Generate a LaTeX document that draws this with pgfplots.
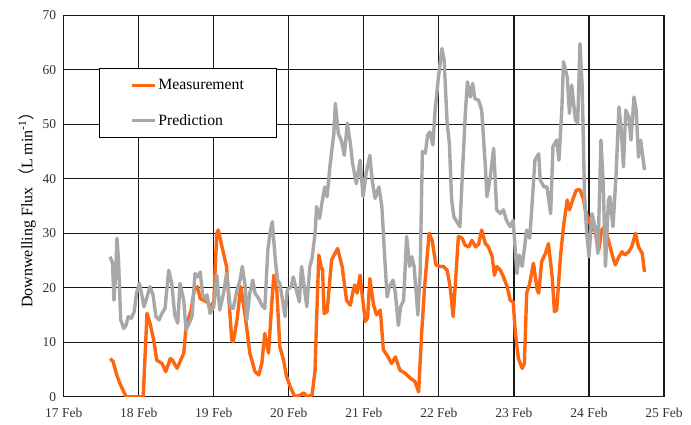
\documentclass[border=0pt]{standalone}
\usepackage{fontspec}
\setmainfont{Liberation Serif}
\newfontfamily\cjk{Noto Sans CJK SC}
\usepackage{pgfplots}
\pgfplotsset{compat=1.18}
\definecolor{meas}{RGB}{255,102,16}
\definecolor{pred}{RGB}{168,168,168}
\definecolor{gridc}{RGB}{25,25,25}
\begin{document}
\begin{tikzpicture}
\useasboundingbox (-63.7pt,-27.3pt) rectangle (627.3pt,396.7pt);
\begin{axis}[
  scale only axis,
  width=600.3pt, height=381.4pt,
  xmin=17, xmax=25, ymin=0, ymax=70,
  xtick={17,18,19,20,21,22,23,24,25},
  xticklabels={17 Feb,18 Feb,19 Feb,20 Feb,21 Feb,22 Feb,23 Feb,24 Feb,25 Feb},
  ytick={0,10,20,30,40,50,60,70},
  major tick length=0pt,
  grid=major,
  major grid style={gridc, line width=1.2pt},
  axis line style={gridc, line width=1.2pt},
  tick label style={font=\fontsize{13.5}{15}\selectfont, text=black!80},
  /pgf/number format/assume math mode=true,
  xticklabel style={yshift=-8pt},
  yticklabel style={xshift=-4pt},
  ylabel={Downwelling Flux\hspace{0.15em}{\cjk （}L min\textsuperscript{-1}{\cjk ）}},
  every axis y label/.append style={font=\fontsize{16}{18}\selectfont, yshift=0pt},
  legend style={at={(0.058,0.862)}, anchor=north west, draw=black, line width=1pt,
    font=\fontsize{15.7}{17}\selectfont, inner xsep=31pt, inner ysep=9pt, row sep=19pt,
    cells={anchor=west}},
  legend image code/.code={\draw[#1] (0pt,0pt) -- (23pt,0pt);},
  every axis plot/.append style={line width=3.4pt, line join=round},
]
\addplot[meas, no markers] coordinates {
(17.62,7.0)(17.66,6.4)(17.70,4.3)(17.75,2.4)(17.82,0.3)(17.84,0)(18.06,0)(18.11,15.3)(18.15,13.5)(18.20,10.4)
(18.24,6.7)(18.31,6.1)(18.36,4.6)(18.42,7.0)(18.45,6.7)(18.51,5.2)(18.55,6.4)(18.60,8.0)(18.63,12.8)(18.70,16.0)
(18.74,19.6)(18.78,20.2)(18.82,18.0)(18.91,17.4)(18.95,16.5)(19.00,17.4)(19.04,30.0)(19.06,30.6)(19.10,28.1)(19.17,23.9)
(19.24,10.4)(19.26,10.1)(19.31,14.1)(19.36,20.2)(19.42,14.7)(19.48,8.0)(19.55,4.6)(19.60,4.0)(19.64,6.1)(19.68,11.6)
(19.73,8.0)(19.77,16.5)(19.80,22.3)(19.84,19.6)(19.88,9.2)(19.93,6.7)(19.97,3.7)(20.02,1.8)(20.08,0)(20.15,0.3)
(20.20,0.7)(20.24,0)(20.31,0.3)(20.35,4.9)(20.37,14.1)(20.40,26.0)(20.43,23.9)(20.45,23.2)(20.47,15.3)(20.51,15.6)
(20.57,25.1)(20.65,27.2)(20.71,23.9)(20.77,17.7)(20.82,16.8)(20.86,19.6)(20.88,20.5)(20.91,19.0)(20.95,22.3)(20.97,19.6)
(21.02,13.8)(21.05,14.5)(21.08,21.7)(21.13,16.8)(21.17,15.0)(21.22,15.9)(21.26,8.6)(21.31,7.6)(21.37,6.1)(21.42,7.3)
(21.48,4.9)(21.55,4.3)(21.62,3.4)(21.68,2.8)(21.73,0.9)(21.77,11.6)(21.81,20.2)(21.87,30.0)(21.91,28.7)(21.96,24.2)
(22.02,23.9)(22.06,23.9)(22.11,23.2)(22.15,20.2)(22.19,14.7)(22.22,20.8)(22.26,29.4)(22.31,29.1)(22.35,27.8)(22.40,27.5)
(22.44,28.7)(22.49,27.5)(22.53,28.0)(22.57,30.6)(22.62,28.1)(22.66,27.5)(22.71,25.7)(22.74,22.3)(22.77,23.9)(22.82,23.2)
(22.86,22.0)(22.91,20.2)(22.95,17.7)(22.99,17.4)(23.02,11.6)(23.06,7.0)(23.11,5.2)(23.14,6.1)(23.17,19.0)(23.21,20.8)
(23.26,24.5)(23.31,19.6)(23.33,19.0)(23.37,24.8)(23.42,26.3)(23.46,28.1)(23.51,22.0)(23.54,15.6)(23.57,15.9)(23.62,25.7)
(23.66,31.2)(23.71,36.1)(23.74,34.3)(23.79,36.4)(23.83,37.9)(23.88,38.0)(23.93,36.1)(23.95,34.3)(24.00,32.4)(24.04,30.6)
(24.08,30.6)(24.13,26.9)(24.17,30.6)(24.21,31.2)(24.26,28.7)(24.31,26.0)(24.35,24.2)(24.40,25.7)(24.44,26.6)(24.48,26.0)
(24.53,26.6)(24.57,27.5)(24.62,30.0)(24.66,27.5)(24.71,26.3)(24.74,22.9)
};
\addlegendentry{Measurement}
\addplot[pred, no markers] coordinates {
(17.62,25.7)(17.65,24.5)(17.67,17.7)(17.69,22.0)(17.71,29.1)(17.73,25.1)(17.76,14.1)(17.80,12.5)(17.83,13.1)(17.86,14.7)
(17.90,14.4)(17.94,15.6)(17.97,19.0)(18.01,20.8)(18.04,18.7)(18.07,16.5)(18.11,18.3)(18.15,20.2)(18.19,18.7)(18.23,14.7)
(18.27,14.1)(18.31,15.3)(18.35,16.2)(18.40,23.2)(18.44,20.8)(18.48,15.0)(18.52,13.5)(18.55,20.8)(18.60,17.7)(18.63,12.2)
(18.66,13.1)(18.71,14.7)(18.75,22.6)(18.78,22.0)(18.82,22.9)(18.85,18.7)(18.88,18.0)(18.91,18.7)(18.95,15.3)(19.00,16.5)
(19.04,22.3)(19.08,15.9)(19.13,19.0)(19.17,22.6)(19.22,16.5)(19.26,16.2)(19.31,19.6)(19.35,21.4)(19.38,23.9)(19.42,20.2)
(19.44,14.1)(19.48,19.0)(19.52,21.4)(19.55,19.0)(19.60,18.0)(19.64,16.8)(19.68,16.2)(19.72,26.9)(19.76,30.9)(19.78,32.1)
(19.82,25.1)(19.85,21.4)(19.88,20.8)(19.93,16.5)(19.95,14.7)(19.98,19.6)(20.03,20.2)(20.06,22.0)(20.10,19.6)(20.14,17.4)
(20.17,23.9)(20.20,20.8)(20.24,16.5)(20.28,23.9)(20.31,25.4)(20.35,30.0)(20.37,34.9)(20.41,32.7)(20.44,35.5)(20.48,38.5)
(20.51,36.7)(20.55,42.5)(20.60,48.3)(20.62,53.8)(20.66,48.3)(20.70,47.0)(20.74,44.3)(20.78,50.2)(20.82,46.5)(20.85,42.8)
(20.90,39.1)(20.95,43.4)(20.99,36.7)(21.03,41.0)(21.08,44.3)(21.11,39.8)(21.15,36.4)(21.20,38.5)(21.24,34.9)(21.28,25.1)
(21.31,18.3)(21.34,20.2)(21.39,21.4)(21.42,19.0)(21.46,13.1)(21.49,16.5)(21.53,17.7)(21.57,29.4)(21.61,23.9)(21.64,25.7)
(21.67,23.9)(21.72,15.0)(21.75,22.6)(21.78,45.0)(21.82,44.7)(21.85,48.0)(21.88,48.6)(21.92,46.2)(21.95,52.6)(21.99,58.1)
(22.04,63.9)(22.07,61.8)(22.11,50.2)(22.14,46.5)(22.17,36.1)(22.20,33.0)(22.24,32.1)(22.28,31.2)(22.32,42.8)(22.35,51.4)
(22.38,57.8)(22.42,55.0)(22.45,57.5)(22.48,54.7)(22.53,54.4)(22.57,52.6)(22.62,42.2)(22.64,36.7)(22.68,39.8)(22.73,45.6)
(22.77,34.3)(22.82,33.6)(22.86,34.3)(22.90,32.4)(22.95,31.2)(22.99,32.4)(23.04,22.6)(23.07,26.0)(23.11,23.9)(23.17,30.6)
(23.21,29.1)(23.24,34.9)(23.28,43.4)(23.33,44.6)(23.35,39.8)(23.40,38.5)(23.44,38.5)(23.49,33.6)(23.52,45.9)(23.57,47.1)
(23.60,43.4)(23.64,53.2)(23.66,61.5)(23.71,58.7)(23.74,52.0)(23.77,57.2)(23.82,50.8)(23.85,50.2)(23.88,64.8)(23.91,56.9)
(23.94,37.3)(23.97,30.0)(24.00,25.7)(24.04,33.6)(24.08,31.2)(24.12,26.3)(24.16,47.1)(24.19,39.1)(24.22,23.9)(24.26,36.1)
(24.28,36.7)(24.32,31.2)(24.36,40.4)(24.40,53.2)(24.43,48.9)(24.46,42.2)(24.49,52.6)(24.53,51.4)(24.56,47.1)(24.60,55.0)
(24.63,52.6)(24.66,44.0)(24.69,47.1)(24.74,41.6)
};
\addlegendentry{Prediction}
\end{axis}
\end{tikzpicture}
\end{document}
